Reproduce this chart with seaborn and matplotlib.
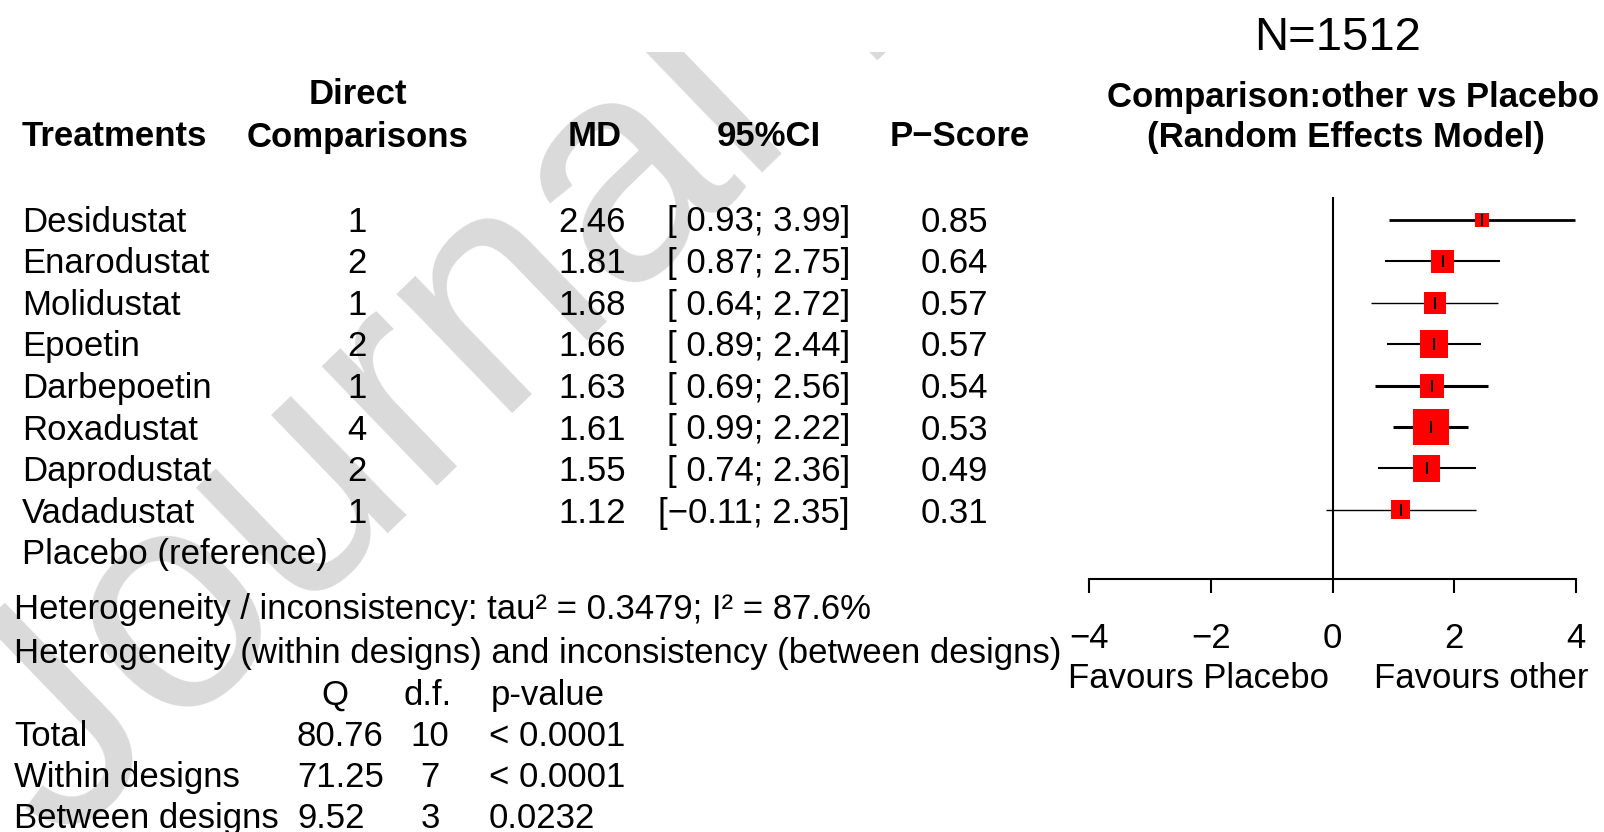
import numpy as np
import pandas as pd
import matplotlib
matplotlib.use("Agg")
import matplotlib.pyplot as plt
import seaborn as sns
from matplotlib.transforms import Bbox, TransformedBbox

# ---------------- data ----------------
treatments = ["Desidustat", "Enarodustat", "Molidustat", "Epoetin",
              "Darbepoetin", "Roxadustat", "Daprodustat", "Vadadustat"]
reference = "Placebo (reference)"
n_direct = [1, 2, 1, 2, 1, 4, 2, 1]
md = [2.46, 1.81, 1.68, 1.66, 1.63, 1.61, 1.55, 1.12]
ci_lower = [0.93, 0.87, 0.64, 0.89, 0.69, 0.99, 0.74, -0.11]
ci_upper = [3.99, 2.75, 2.72, 2.44, 2.56, 2.22, 2.36, 2.35]
pscore = [0.85, 0.64, 0.57, 0.57, 0.54, 0.53, 0.49, 0.31]

n_total = 1512
tau2 = 0.3479
i2 = 87.6
het_rows = ["Total", "Within designs", "Between designs"]
het_q = [80.76, 71.25, 9.52]
het_df = [10, 7, 3]
het_p = ["< 0.0001", "< 0.0001", "0.0232"]
x_ticks = [-4, -2, 0, 2, 4]

# ---------------- styles ----------------
square_px = [14, 23, 22, 28, 24, 36, 27, 19]
ci_lw = [2.0, 1.5, 1.0, 1.5, 2.2, 2.2, 1.5, 1.0]

sns.set_style("white")
plt.rcParams['font.family'] = ['Liberation Sans', 'DejaVu Sans']
plt.rcParams['axes.unicode_minus'] = True

W, H = 1604, 832
fig = plt.figure(figsize=(W / 100, H / 100), dpi=100)
fig.patch.set_facecolor("white")


def fx(x):
    return x / W


def fy(y):
    return 1 - y / H


FS = 25


def put(x, y, s, ha='left', size=FS, weight='normal'):
    fig.text(fx(x), fy(y), s, ha=ha, va='baseline', fontsize=size,
             fontweight=weight, color='black', zorder=5)


# watermark
wm = fig.text(fx(60), fy(850), "Journal Pre-proof", rotation=44,
              rotation_mode='anchor', ha='left', va='baseline',
              fontsize=225, color='#dadada', zorder=0)
wm.set_clip_box(TransformedBbox(Bbox([[0, 0], [1, 1 - 52 / H]]), fig.transFigure))
wm.set_clip_on(True)

# ---------------- table headers ----------------
put(22, 146.5, "Treatments", weight='bold')
put(358, 104.5, "Direct", ha='center', weight='bold')
put(358, 146.5, "Comparisons", ha='center', weight='bold')
put(595, 146.5, "MD", ha='center', weight='bold')
put(769, 146.5, "95%CI", ha='center', weight='bold')
put(960, 146.5, "P\u2212Score", ha='center', weight='bold')

put(1338, 50, f"N={n_total}", ha='center', size=34)
put(1353, 106.5, "Comparison:other vs Placebo", ha='center', weight='bold')
put(1346, 147.5, "(Random Effects Model)", ha='center', weight='bold')


def fmt(v):
    return f"{v:.2f}".replace("-", "\u2212")


row0, dy = 231.5, 41.6
for i, t in enumerate(treatments):
    yb = row0 + dy * i
    put(22, yb, t)
    put(357, yb, str(n_direct[i]), ha='center')
    put(626, yb, f"{md[i]:.2f}", ha='right')
    lo = fmt(ci_lower[i])
    lo = lo if ci_lower[i] < 0 else " " + lo
    put(850, yb, f"[{lo}; {fmt(ci_upper[i])}]", ha='right')
    put(988, yb, f"{pscore[i]:.2f}", ha='right')
put(22, row0 + dy * len(treatments), reference)

# ---------------- heterogeneity ----------------
put(14, 619, f"Heterogeneity / inconsistency: tau\u00b2 = {tau2:.4f}; I\u00b2 = {i2:.1f}%")
put(14, 663, "Heterogeneity (within designs) and inconsistency (between designs)")
put(335, 705, "Q", ha='center')
put(428, 705, "d.f.", ha='center')
put(491, 705, "p-value")
for k, lab in enumerate(het_rows):
    yb = 746 + 41 * k
    put(14, yb, lab)
    put(297, yb, f"{het_q[k]:.2f}")
    put(430, yb, str(het_df[k]), ha='center')
    put(489, yb, het_p[k])

# ---------------- forest plot ----------------
ax = fig.add_axes([fx(1089), fy(579), (1576 - 1089) / W, (579 - 197) / H])
ax.patch.set_visible(False)
rows = np.arange(len(treatments))
df = pd.DataFrame({"treatment": treatments, "md": md, "lower": ci_lower,
                   "upper": ci_upper, "row": rows})

ax.axvline(0, color='black', lw=1.5, zorder=1)
ax.hlines(df["row"], df["lower"], df["upper"], colors='black',
          linewidth=ci_lw, zorder=2)
sns.scatterplot(data=df, x="md", y="row", marker="s",
                s=[(p * 0.72) ** 2 for p in square_px], color='red',
                linewidth=0, ax=ax, zorder=3, legend=False)
ax.scatter(df["md"], df["row"], marker='|', s=9 ** 2, color='black',
           linewidths=1.5, zorder=4)

ax.set_xlim(-4, 4)
ax.set_ylim(8.67, -0.556)
ax.set_yticks([])
ax.set_xticks(x_ticks)
ax.set_xlabel("")
ax.set_ylabel("")
sns.despine(ax=ax, left=True, top=True, right=True)
ax.spines['bottom'].set_bounds(-4, 4)
ax.spines['bottom'].set_linewidth(1.5)
ax.spines['bottom'].set_color('black')
ax.tick_params(axis='x', bottom=True, direction='out', length=10, width=1.5,
               pad=21, labelsize=FS, colors='black')

put(1199, 688, "Favours Placebo", ha='center')
put(1481, 688, "Favours other", ha='center')

fig.savefig("out.png", dpi=100)
